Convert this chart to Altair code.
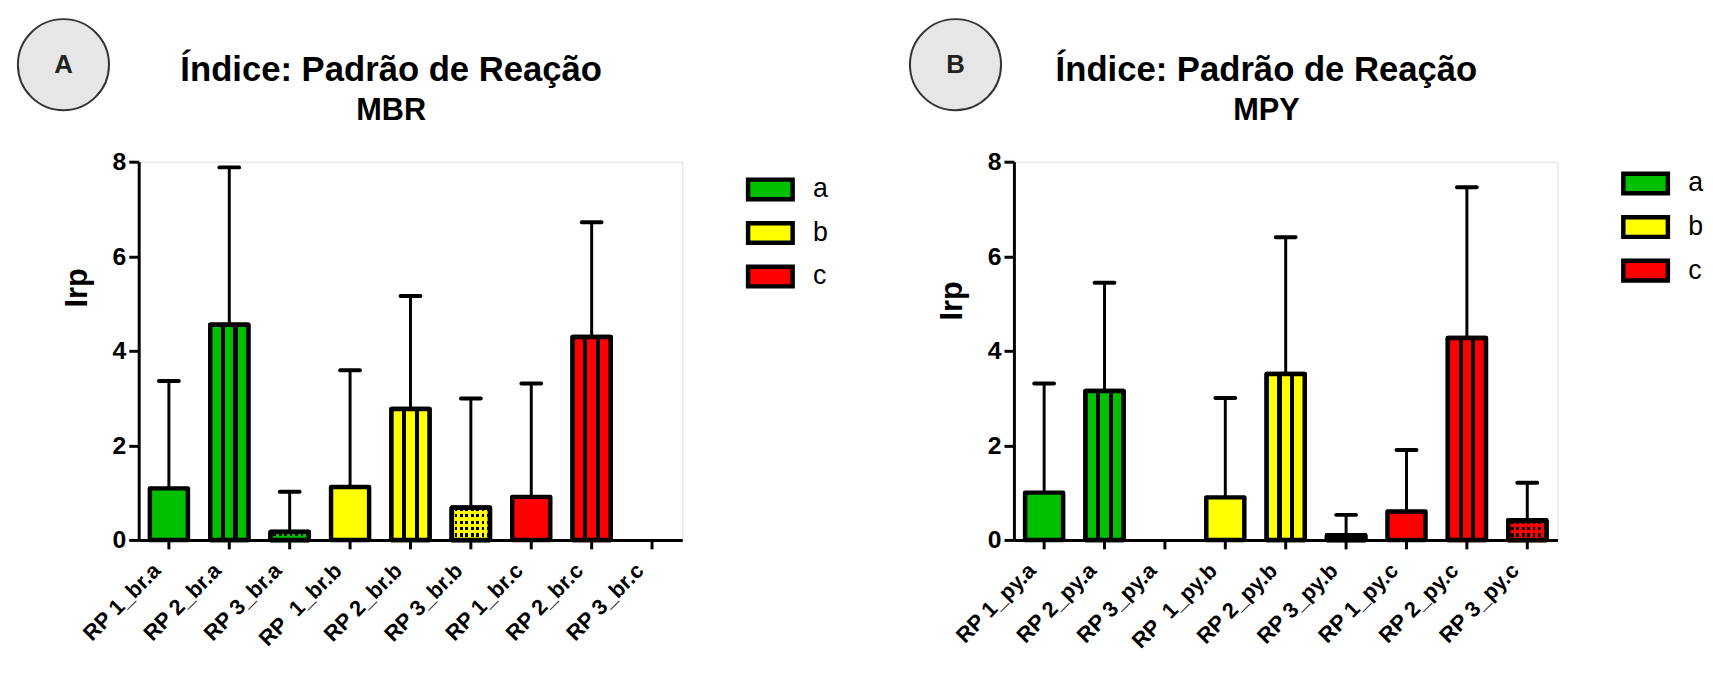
import altair as alt
import pandas as pd

FONT = "Liberation Sans"

# ---------------- data ----------------
cats_a = ["RP 1_br.a", "RP 2_br.a", "RP 3_br.a",
          "RP\u00a0 1_br.b", "RP 2_br.b", "RP 3_br.b",
          "RP 1_br.c", "RP 2_br.c", "RP 3_br.c"]
vals_a = [1.09, 4.55, 0.17, 1.12, 2.77, 0.68, 0.91, 4.29, 0.0]
errs_a = [3.36, 7.88, 1.02, 3.59, 5.16, 2.99, 3.31, 6.72, None]

cats_b = ["RP 1_py.a", "RP 2_py.a", "RP 3_py.a",
          "RP\u00a0 1_py.b", "RP 2_py.b", "RP 3_py.b",
          "RP 1_py.c", "RP 2_py.c", "RP 3_py.c"]
vals_b = [1.00, 3.15, 0.0, 0.90, 3.51, 0.10, 0.60, 4.27, 0.41]
errs_b = [3.31, 5.44, None, 3.00, 6.40, 0.53, 1.90, 7.46, 1.21]

groups = ["a", "a", "a", "b", "b", "b", "c", "c", "c"]
patterns = ["solid", "stripe", "check"] * 3
group_names = ["a", "b", "c"]
group_colors = ["#00c000", "#ffff00", "#ff0000"]

TITLE = "Índice: Padrão de Reação"


def stripe_fill(color):
    stops = [(0, color), (0.28, color), (0.28, "black"), (0.39, "black"),
             (0.39, color), (0.61, color), (0.61, "black"), (0.72, "black"),
             (0.72, color), (1, color)]
    return {"gradient": "linear", "x1": 0, "y1": 0, "x2": 1, "y2": 0,
            "stops": [{"offset": o, "color": c} for o, c in stops]}


def col_fill(color, n=7):
    stops = []
    for k in range(n):
        a, m, b = k / n, (k + 0.5) / n, (k + 1) / n
        stops += [(a, color), (m, color), (m, "black"), (b, "black")]
    return {"gradient": "linear", "x1": 0, "y1": 0, "x2": 1, "y2": 0,
            "stops": [{"offset": o, "color": c} for o, c in stops]}


def row_fill(color, n):
    clear = "rgba(0,0,0,0)"
    stops = []
    for k in range(n):
        a, m, b = k / n, (k + 0.5) / n, (k + 1) / n
        stops += [(a, clear), (m, clear), (m, color), (b, color)]
    return {"gradient": "linear", "x1": 0, "y1": 0, "x2": 0, "y2": 1,
            "stops": [{"offset": o, "color": c} for o, c in stops]}


def panel(cats, vals, errs, subtitle, letter, width, height,
          circ_x, circ_y, irp_y, leg_y):
    df = pd.DataFrame({"cat": cats, "val": vals, "err": errs,
                       "grp": groups, "pat": patterns})
    base = alt.Chart(df)
    px_per_unit = height / 8.0

    x_enc = alt.X("cat:N",
                  scale=alt.Scale(domain=cats, paddingInner=0.37,
                                  paddingOuter=0.185),
                  axis=alt.Axis(title=None, labelAngle=-45, labelAlign="right",
                                labelBaseline="middle", labelFont=FONT,
                                labelFontSize=22, labelFontWeight="bold",
                                labelColor="black", labelPadding=18,
                                labelOffset=-12,
                                tickSize=9, tickWidth=3, tickColor="black",
                                domainWidth=3, domainColor="black",
                                labelLimit=300))
    y_enc = alt.Y("val:Q",
                  scale=alt.Scale(domain=[0, 8], nice=False),
                  axis=alt.Axis(values=[0, 2, 4, 6, 8], title="Irp",
                                titleFont=FONT, titleFontSize=31,
                                titleFontWeight="bold", titleColor="black",
                                titleX=-62, titleY=irp_y, titleAngle=270,
                                titleAlign="center", titleBaseline="middle",
                                labelFont=FONT, labelFontSize=25,
                                labelFontWeight="bold", labelColor="black",
                                labelPadding=3, tickSize=10, tickWidth=3,
                                tickColor="black", domainWidth=3,
                                domainColor="black", grid=False))

    bar_style = dict(stroke="black", strokeWidth=4.5, strokeJoin="round")

    layers = []
    layers.append(
        base.transform_filter("datum.val > 0").mark_bar(**bar_style).encode(
            x=x_enc, y=y_enc,
            fill=alt.Fill("grp:N",
                          scale=alt.Scale(domain=group_names, range=group_colors),
                          legend=alt.Legend(
                              title=None, orient="none",
                              legendX=613, legendY=leg_y,
                              padding=0, offset=0,
                              symbolType="M-1,-0.44H1V0.44H-1Z",
                              symbolSize=2025, symbolStrokeWidth=4.5,
                              symbolStrokeColor="black", symbolOpacity=1,
                              labelFont=FONT, labelFontSize=27,
                              labelColor="black", labelOffset=18,
                              rowPadding=0)))
    )
    for g, c in zip(group_names, group_colors):
        layers.append(
            base.transform_filter(
                f"datum.grp == '{g}' && datum.pat == 'stripe' && datum.val > 0")
            .mark_bar(fill=stripe_fill(c), **bar_style)
            .encode(x=x_enc, y=y_enc)
        )
    cmap = dict(zip(group_names, group_colors))
    for v, g, p in zip(vals, groups, patterns):
        if p != "check" or v <= 0:
            continue
        c = cmap[g]
        nrows = max(1, round(v * px_per_unit / 6))
        sub = base.transform_filter(
            f"datum.grp == '{g}' && datum.pat == 'check'")
        layers.append(sub.mark_bar(fill=col_fill(c), **bar_style)
                      .encode(x=x_enc, y=y_enc))
        layers.append(sub.mark_bar(fill=row_fill(c, nrows), **bar_style)
                      .encode(x=x_enc, y=y_enc))

    err_base = base.transform_filter("isValid(datum.err)")
    layers.append(err_base.mark_rule(color="black", strokeWidth=3).encode(
        x=x_enc, y=y_enc, y2="err:Q"))
    layers.append(err_base.mark_tick(color="black", thickness=4, size=24,
                                     cornerRadius=2, opacity=1).encode(
        x=x_enc, y=alt.Y("err:Q")))

    ann = alt.Chart(pd.DataFrame({"t": [letter]}))
    layers.append(ann.mark_point(
        shape="circle", size=92 * 92, filled=True, fill="#e6e6e6",
        fillOpacity=1, stroke="#333333", strokeWidth=2, opacity=1).encode(
        x=alt.value(circ_x), y=alt.value(circ_y)))
    layers.append(ann.mark_text(font=FONT, fontSize=26, fontWeight="bold",
                                color="#222222", baseline="middle",
                                align="center").encode(
        x=alt.value(circ_x), y=alt.value(circ_y), text="t:N"))
    layers.append(ann.mark_text(font=FONT, fontSize=35, fontWeight="bold",
                                color="black", baseline="alphabetic",
                                align="center", text=TITLE).encode(
        x=alt.value(255), y=alt.value(-82)))
    layers.append(ann.mark_text(font=FONT, fontSize=31, fontWeight="bold",
                                color="black", baseline="alphabetic",
                                align="center", text=subtitle).encode(
        x=alt.value(255), y=alt.value(-42)))

    return alt.layer(*layers).properties(width=width, height=height)


pa = panel(cats_a, vals_a, errs_a, "MBR", "A", 549, 382, -76, -98, 127, 3)
pb = panel(cats_b, vals_b, errs_b, "MPY", "B", 549, 382, -59, -98, 140, -3)

chart = alt.hconcat(pa, pb, spacing=76).resolve_scale(
    fill="independent").resolve_legend(fill="independent").properties(
    padding={"left": 5, "top": 3, "right": 0, "bottom": 0}
).configure_view(stroke=None).configure(background="white")

chart.save("out.html", embed_options={"renderer": "svg", "actions": False})
